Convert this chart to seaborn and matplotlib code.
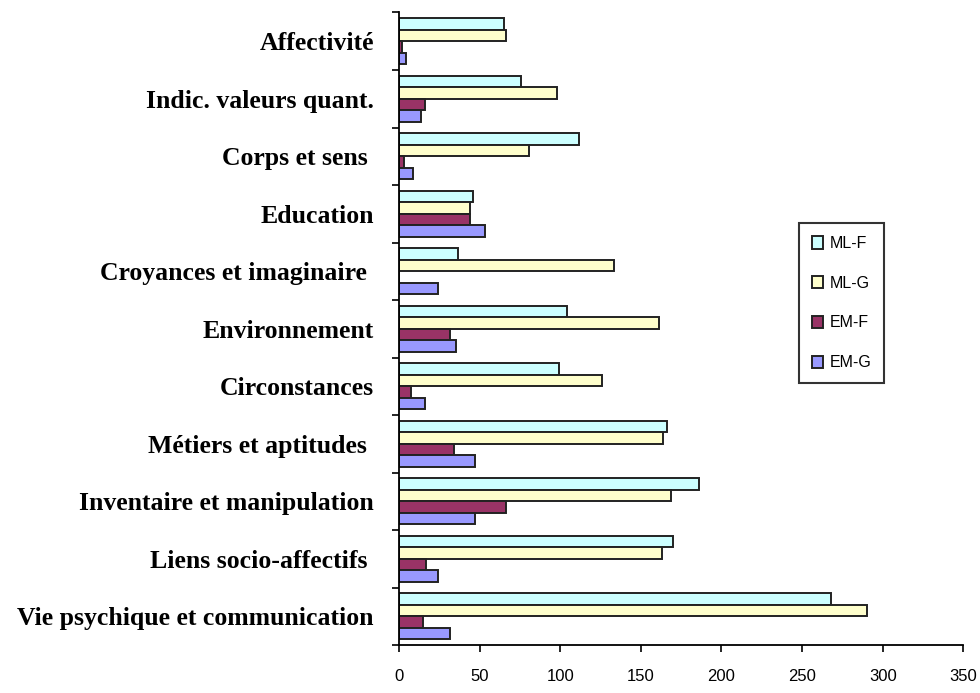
import numpy as np
import pandas as pd
import matplotlib
matplotlib.use('Agg')
import matplotlib.pyplot as plt
import seaborn as sns

# catégories, de haut en bas
categories = [
    'Affectivité',
    'Indic. valeurs quant.',
    'Corps et sens ',
    'Education',
    'Croyances et imaginaire ',
    'Environnement',
    'Circonstances',
    'Métiers et aptitudes ',
    'Inventaire et manipulation',
    'Liens socio-affectifs ',
    'Vie psychique et communication',
]
series = ['ML-F', 'ML-G', 'EM-F', 'EM-G']

ml_f = [65, 76, 112, 46, 36.5, 104, 99.5, 166.5, 186, 170, 268]
ml_g = [66.5, 98, 81, 44, 133.5, 161, 126, 163.5, 169, 163, 290.5]
em_f = [2, 16, 3, 44, 0, 32, 7.5, 34, 66.5, 17, 15]
em_g = [4.5, 14, 8.5, 53.5, 24.5, 35.5, 16, 47, 47, 24.5, 32]

colors = ['#CCFFFF', '#FFFFCC', '#993366', '#9999FF']

df = pd.DataFrame({
    'categorie': categories * 4,
    'serie': np.repeat(series, len(categories)),
    'valeur': ml_f + ml_g + em_f + em_g,
})

sns.set_style('white')
plt.rcParams['font.family'] = ['Liberation Sans', 'DejaVu Sans']
plt.rcParams['text.color'] = 'black'
plt.rcParams['xtick.color'] = 'black'
plt.rcParams['ytick.color'] = 'black'

fig = plt.figure(figsize=(9.8, 6.93), dpi=100)
ax = fig.add_axes([0.407, 0.069, 0.576, 0.913])

sns.barplot(data=df, x='valeur', y='categorie', hue='serie',
            order=categories, hue_order=series, palette=colors,
            orient='h', width=0.8, edgecolor='#222222', linewidth=1.4,
            saturation=1, ax=ax)

ax.set_xlim(0, 350)
ax.set_xticks(np.arange(0, 351, 50))
ax.set_xlabel('')
ax.set_ylabel('')
ax.set_ylim(len(categories) - 0.5, -0.5)

# ticks aux limites des catégories (style Excel)
ax.set_yticks(np.arange(-0.5, len(categories), 1), minor=True)
ax.tick_params(axis='y', which='major', length=0, pad=18)
ax.tick_params(axis='y', which='minor', length=5, width=1.2, direction='out', left=True)
ax.tick_params(axis='x', which='major', length=5, width=1.2, direction='out', bottom=True,
               labelsize=12, pad=12)
for lab in ax.get_yticklabels():
    lab.set_fontfamily(['Liberation Serif', 'DejaVu Serif'])
    lab.set_fontweight('bold')
    lab.set_fontsize(18.5)
    lab.set_color('black')

for side in ['top', 'right']:
    ax.spines[side].set_visible(False)
for side in ['left', 'bottom']:
    ax.spines[side].set_color('black')
    ax.spines[side].set_linewidth(1.3)

leg = ax.legend(loc='upper left', bbox_to_anchor=(0.709, 0.667), borderaxespad=0,
                fontsize=11.5, handlelength=0.7, handleheight=0.8, handletextpad=0.4,
                labelspacing=1.55, borderpad=0.8, fancybox=False, frameon=True)
leg.get_frame().set_edgecolor('black')
leg.get_frame().set_linewidth(1.5)

plt.savefig('out.png', dpi=100)
